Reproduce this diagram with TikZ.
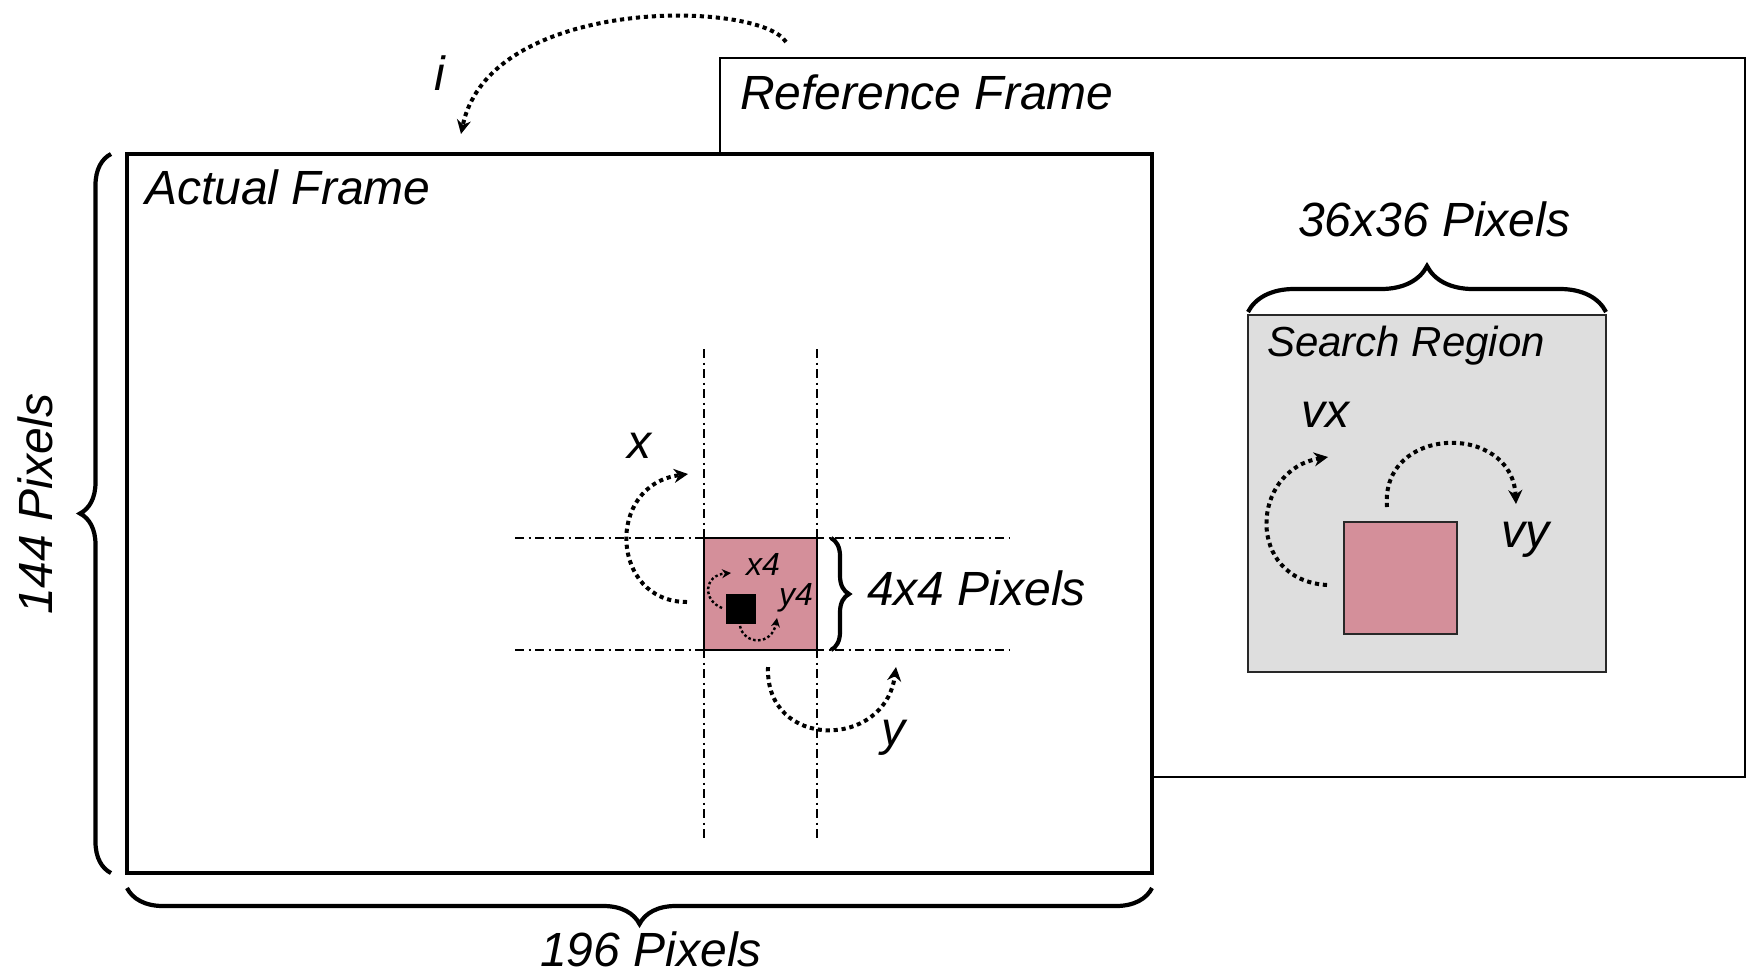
\documentclass[tikz,border=0pt]{standalone}
\usepackage{fontspec}
\setmainfont{Liberation Sans}
\usetikzlibrary{arrows.meta,decorations.pathreplacing}
\definecolor{pinkfill}{RGB}{212,143,154}
\definecolor{grayfill}{RGB}{222,222,222}
\definecolor{edgegray}{RGB}{40,40,40}
\begin{document}
\begin{tikzpicture}[x=0.5pt,y=-0.5pt,
  lbl/.style={font=\fontsize{24}{28}\selectfont\itshape, inner sep=0pt, outer sep=0pt},
  lblmid/.style={font=\fontsize{21}{25}\selectfont\itshape, inner sep=0pt, outer sep=0pt},
  lblsmall/.style={font=\fontsize{16}{19}\selectfont\itshape, inner sep=0pt, outer sep=0pt},
  box/.style={rectangle, anchor=north west, inner sep=0pt, outer sep=0pt},
  dotarrow/.style={line width=2pt, dash pattern=on 2.1pt off 1.9pt, -{Stealth[length=7pt,width=7pt]}},
  smallarrow/.style={line width=1.2pt, dash pattern=on 1.3pt off 1.2pt, -{Stealth[length=4.5pt,width=4.5pt]}},
  guide/.style={line width=0.6pt, dash pattern=on 4.5pt off 2.25pt on 1pt off 2.25pt},
  bracestyle/.style={decorate, decoration={brace, amplitude=#1}, line width=2.1pt},
]
\useasboundingbox (0,0) rectangle (1748,976);

% frames
\node[box, draw, line width=0.7pt, fill=white, minimum width=512.5pt, minimum height=359.5pt] (ref) at (720,58) {};
\node[box, draw=edgegray, line width=0.8pt, fill=grayfill, minimum width=179pt, minimum height=178.5pt] (search) at (1248,315) {};
\node[box, draw=edgegray, line width=1pt, fill=pinkfill, minimum width=56.5pt, minimum height=56pt] (spink) at (1344,522) {};
\node[box, draw, line width=1.75pt, fill=white, minimum width=512.5pt, minimum height=359.5pt] (actual) at (127,154) {};

% guide lines
\draw[guide] (704,349) -- (704,842);
\draw[guide] (817,349) -- (817,842);
\draw[guide] (515,538) -- (1009,538);
\draw[guide] (515,650) -- (1009,650);

% central square and pixel
\node[box, draw, line width=1pt, fill=pinkfill, minimum width=56.5pt, minimum height=56pt] (sq) at (704,538) {};
\node[box, fill=black, minimum width=15pt, minimum height=15pt] (px) at (726,594) {};

% braces
\draw[bracestyle=15.5pt] ([xshift=-8pt]actual.south west) -- ([xshift=-8pt]actual.north west);
\draw[bracestyle=18pt] ([yshift=-7.5pt]actual.south east) -- ([yshift=-7.5pt]actual.south west);
\draw[bracestyle=23pt] ([yshift=1.5pt]search.north west) -- ([yshift=1.5pt]search.north east);
\draw[bracestyle=9pt] ([xshift=7pt]sq.north east) -- ([xshift=7pt]sq.south east);

% arrow end points
\coordinate (iS) at (786,42);  \coordinate (iE) at (461,134);
\coordinate (xS) at (687,602); \coordinate (xE) at (688,474);
\coordinate (yS) at (768,667); \coordinate (yE) at (896,667);
\coordinate (x4S) at (722,608); \coordinate (x4E) at (731,573);
\coordinate (y4S) at (740,626); \coordinate (y4E) at (777,618);
\coordinate (vxS) at (1327,585); \coordinate (vxE) at (1328,457);
\coordinate (vyS) at (1387,507); \coordinate (vyE) at (1516,504);

\draw[dotarrow] (iS) .. controls (760,0) and (490,-5) .. (iE);
\draw[dotarrow] (xS) .. controls (610,602) and (605,485) .. (xE);
\draw[dotarrow] (yS) .. controls (765,750) and (885,750) .. (yE);
\draw[smallarrow] (x4S) .. controls (702,600) and (704,575) .. (x4E);
\draw[smallarrow] (y4S) .. controls (744,645) and (772,646) .. (y4E);
\draw[dotarrow] (vxS) .. controls (1245,580) and (1250,470) .. (vxE);
\draw[dotarrow] (vyS) .. controls (1380,425) and (1512,422) .. (vyE);

% labels
\node[lbl, anchor=base west] (tActual) at (145,204) {Actual Frame};
\node[lbl, anchor=base west] (tRef) at (740,109) {Reference Frame};
\node[lbl, anchor=base west] (t36) at (1298,236) {36x36 Pixels};
\node[lblmid, anchor=base west] (tSearch) at (1267,356) {Search Region};
\node[lbl, anchor=base west] (t4) at (867,605) {4x4 Pixels};
\node[lbl, anchor=base, rotate=90] (t144) at (52,504) {144 Pixels};
\node[lbl, anchor=base] (t196) at (651,966) {196 Pixels};
\node[lbl, anchor=base] (ti) at (440,90) {i};
\node[lbl, anchor=base] (tx) at (639,458) {x};
\node[lbl, anchor=base] (ty) at (893,745) {y};
\node[lblsmall, anchor=base] (tx4) at (763,575) {x4};
\node[lblsmall, anchor=base] (ty4) at (796,605) {y4};
\node[lbl, anchor=base] (tvx) at (1325,427) {vx};
\node[lbl, anchor=base] (tvy) at (1525,547) {vy};
\end{tikzpicture}
\end{document}
